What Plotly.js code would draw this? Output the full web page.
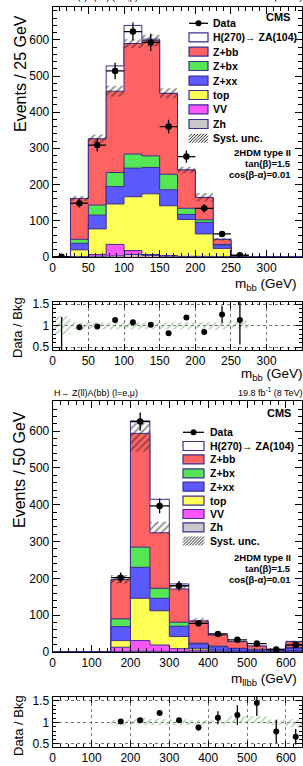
<!DOCTYPE html>
<html><head><meta charset="utf-8">
<script src="https://cdn.plot.ly/plotly-3.0.1.min.js"></script>
<style>html,body{margin:0;padding:0;overflow:hidden;background:#fff}#c{width:303px;height:766px}</style>
</head><body><div id="c"></div>
<script>
// ---------- DATA: upper figure, m_bb (25 GeV bins) ----------
const bbEdges = [0,25,50,75,100,125,150,175,200,225,250,275,300,325,350];
const bbZh  = [0,0,1,2,6,3,1,0,0,0,0,0,0,0];
const bbVV  = [0,0,5,32,11,3,2,1,1,0,0,0,0,0];
const bbTop = [0,19,71,112,149,168,138,102,62,23,1,0,0,0];
const bbZxx = [0,18,38,48,79,73,44,14,32,9,0.5,0,0,0];
const bbZbx = [0,11,28,39,39,32,43,17,7,2,0.3,0,0,0];
const bbZbb = [0,113,183,225,306,319,224,106,62,14,0.2,0,0,0];
const bbSig = [0,0,0,70,50,4,0,0,0,0,0,0,0,0];
const bbSystLo = [0,154,315,443,577,582,439,231,153,44,1.5,0,0,0];
const bbSystHi = [0,168,338,473,602,614,466,249,176,52,2.5,0,0,0];
const bbData    = [0,148,309,514,623,593,360,277,134,63,4,null,null,null];
const bbDataErr = [0,12,18,23,25,24,19,17,12,8,2,null,null,null];
const bbRatio    = [0,0.96,0.98,1.13,1.08,1.02,0.82,1.19,0.85,1.26,1.13,null,null,null];
const bbRatioErr = [1.2,0.06,0.05,0.04,0.04,0.04,0.04,0.05,0.06,0.2,0.57,null,null,null];
const bbBandLo = [0.79,0.91,0.91,0.91,0.91,0.91,0.91,0.91,0.91,0.91,0.93,1,1,1];
const bbBandHi = [1.22,1.08,1.08,1.08,1.08,1.08,1.08,1.08,1.08,1.08,1.12,1,1,1];

// ---------- DATA: lower figure, m_llbb (50 GeV bins) ----------
const llEdges = [0,50,100,150,200,250,300,350,400,450,500,550,600,650];
const llZh  = [0,0,0,1,2,2,1,0,0,0,0,0,0];
const llVV  = [0,0,0,12,29,17,8,5,2,1,1,0,1];
const llTop = [0,0,0,18,115,93,33,5,3,2,1,1,3];
const llZxx = [0,0,0,38,84,34,28,12,9,6,4,3,6];
const llZbx = [0,0,0,21,55,27,11,2,2,1,1,1,2];
const llZbb = [0,0,0,107,309,151,90,60,30,18,9,2,16];
const llSig = [0,0,0,0,34,91,14,0,0,0,0,0,0];
const llSystLo = [0,0,0,186,545,322,171,82,44,27,15,6,26];
const llSystHi = [0,0,0,209,622,354,182,92,49,30,18,8,31];
const llData    = [null,null,null,202,626,397,180,78,49,33,23,7,19];
const llDataErr = [null,null,null,14,25,20,13,9,7,6,5,3,4];
const llRatio    = [null,null,null,1.02,1.05,1.22,1.05,0.88,1.11,1.17,1.45,0.79,0.67];
const llRatioErr = [null,null,null,0.05,0.03,0.05,0.05,0.07,0.15,0.23,0.3,0.27,0.18];
const llBandLo = [1,1,1,0.93,0.94,0.94,0.94,0.94,0.95,0.98,0.98,0.94,0.88];
const llBandHi = [1,1,1,1.06,1.10,1.08,1.07,1.05,1.05,1.15,1.15,1.07,1.08];

const compNames  = ['Zh','VV','top','Z+xx','Z+bx','Z+bb'];
const compColors = ['#c8c8c8','#ff55ff','#ffff55','#5a5aff','#55e655','#ff6262'];
const OUT = '#3d2d8e';
const FONT = 'Liberation Sans, Arial, Helvetica, sans-serif';

// ---------- helpers ----------
const W = 303, H = 766;
const PX = x => x / W, PY = y => 1 - y / H;
function addArr(a, b){ return a.map((v,i)=>v + b[i]); }
function centers(e){ return e.slice(0,-1).map((v,i)=>(v+e[i+1])/2); }
function stepHist(e, v){
  const x=[e[0]], y=[0];
  for(let i=0;i<v.length;i++){ x.push(e[i]); y.push(v[i]); }
  x.push(e[e.length-1]); y.push(v[v.length-1]);
  x.push(e[e.length-1]); y.push(0);
  return {x, y};
}
function stepEdge(e, v){
  const x=[], y=[];
  for(let i=0;i<v.length;i++){ x.push(e[i]); y.push(v[i]); }
  x.push(e[e.length-1]); y.push(v[v.length-1]);
  return {x, y};
}

const traces = [];
function mainPanel(edges, comps, sig, lo, hi, data, dataErr, xa, ya){
  const cum = []; let acc = comps[0].map(()=>0);
  comps.forEach(c => { acc = addArr(acc, c); cum.push(acc); });
  const total = cum[cum.length-1];
  const layers = [{v: addArr(total, sig), col: '#ffffff'}];
  for(let k=comps.length-1;k>=0;k--) layers.push({v: cum[k], col: compColors[k]});
  layers.forEach(L => {
    const s = stepHist(edges, L.v);
    traces.push({type:'scatter', mode:'lines', x:s.x, y:s.y, xaxis:xa, yaxis:ya,
      line:{shape:'hv', color:OUT, width:1}, fill:'tozeroy', fillcolor:L.col,
      hoverinfo:'skip', showlegend:false});
  });
  const sl = stepEdge(edges, lo), sh = stepEdge(edges, hi);
  traces.push({type:'scatter', mode:'lines', x:sl.x, y:sl.y, xaxis:xa, yaxis:ya,
    line:{shape:'hv', width:0, color:'rgba(0,0,0,0)'}, showlegend:false, hoverinfo:'skip'});
  traces.push({type:'scatter', mode:'lines', x:sh.x, y:sh.y, xaxis:xa, yaxis:ya,
    line:{shape:'hv', width:0, color:'rgba(0,0,0,0)'}, fill:'tonexty', fillcolor:'rgba(0,0,0,0)',
    fillpattern:{shape:'/', fgcolor:'#222', bgcolor:'rgba(0,0,0,0)', size:5, solidity:0.35, fillmode:'overlay'},
    showlegend:false, hoverinfo:'skip'});
  const half = (edges[1]-edges[0])/2;
  traces.push({type:'scatter', mode:'markers', x:centers(edges), y:data, xaxis:xa, yaxis:ya,
    marker:{color:'black', size:6.5},
    error_y:{type:'data', array:dataErr, color:'black', thickness:1.3, width:0},
    error_x:{type:'constant', value:half, color:'black', thickness:1.3, width:0},
    showlegend:false, hoverinfo:'skip'});
}
function ratioPanel(edges, lo, hi, r, rErr, xa, ya){
  const sl = stepEdge(edges, lo), sh = stepEdge(edges, hi);
  traces.push({type:'scatter', mode:'lines', x:sl.x, y:sl.y, xaxis:xa, yaxis:ya,
    line:{shape:'hv', width:0, color:'rgba(0,0,0,0)'}, showlegend:false, hoverinfo:'skip'});
  traces.push({type:'scatter', mode:'lines', x:sh.x, y:sh.y, xaxis:xa, yaxis:ya,
    line:{shape:'hv', width:0, color:'rgba(0,0,0,0)'}, fill:'tonexty', fillcolor:'rgba(0,0,0,0)',
    fillpattern:{shape:'/', fgcolor:'#5fa85f', bgcolor:'rgba(0,0,0,0)', size:5, solidity:0.3, fillmode:'overlay'},
    showlegend:false, hoverinfo:'skip'});
  traces.push({type:'scatter', mode:'markers', x:centers(edges), y:r, xaxis:xa, yaxis:ya,
    marker:{color:'black', size:6},
    error_y:{type:'data', array:rErr, color:'black', thickness:1.3, width:0},
    cliponaxis:true, showlegend:false, hoverinfo:'skip'});
}

mainPanel(bbEdges, [bbZh,bbVV,bbTop,bbZxx,bbZbx,bbZbb], bbSig, bbSystLo, bbSystHi, bbData, bbDataErr, 'x', 'y');
ratioPanel(bbEdges, bbBandLo, bbBandHi, bbRatio, bbRatioErr, 'x2', 'y2');
mainPanel(llEdges, [llZh,llVV,llTop,llZxx,llZbx,llZbb], llSig, llSystLo, llSystHi, llData, llDataErr, 'x3', 'y3');
ratioPanel(llEdges, llBandLo, llBandHi, llRatio, llRatioErr, 'x4', 'y4');

// ---------- axes ----------
const xDom = [PX(52.7), PX(302.3)];
function ax(o){
  return Object.assign({showline:true, linecolor:'black', linewidth:1, mirror:'allticks',
    ticks:'inside', ticklen:7, tickwidth:1, tickcolor:'black', zeroline:false, showgrid:false,
    tickfont:{family:FONT, size:12, color:'black'}, fixedrange:true}, o);
}
const grid = {showgrid:true, gridcolor:'#777', griddash:'dot', gridwidth:1};
const layout = {
  width:W, height:H, margin:{l:0,r:0,t:0,b:0}, paper_bgcolor:'white', plot_bgcolor:'white',
  showlegend:false,
  xaxis: ax({domain:xDom, anchor:'y', range:[0,350], tickvals:[0,50,100,150,200,250,300,350], minor:{ticks:'inside', ticklen:4, dtick:10, tickcolor:'black'}}),
  yaxis: ax({domain:[PY(256.7), PY(7)], anchor:'x', range:[0,691], dtick:100, minor:{ticks:'inside', ticklen:4, dtick:20, tickcolor:'black'}}),
  xaxis2: ax(Object.assign({domain:xDom, anchor:'y2', range:[0,350], tickvals:[0,50,100,150,200,250,300,350], ticklen:6, minor:{ticks:'inside', ticklen:3, dtick:10, tickcolor:'black'}}, grid)),
  yaxis2: ax(Object.assign({domain:[PY(350), PY(302)], anchor:'x2', range:[0.43,1.55], tickvals:[0.5,1,1.5], ticktext:['0.5','1','1.5'], ticklen:6, minor:{ticks:'inside', ticklen:3, dtick:0.1, tickcolor:'black'}}, grid)),
  xaxis3: ax({domain:xDom, anchor:'y3', range:[0,642], dtick:100, minor:{ticks:'inside', ticklen:4, dtick:20, tickcolor:'black'}}),
  yaxis3: ax({domain:[PY(652), PY(401)], anchor:'x3', range:[0,682], dtick:100, minor:{ticks:'inside', ticklen:4, dtick:20, tickcolor:'black'}}),
  xaxis4: ax(Object.assign({domain:xDom, anchor:'y4', range:[0,642], dtick:100, ticklen:6, minor:{ticks:'inside', ticklen:3, dtick:20, tickcolor:'black'}}, grid)),
  yaxis4: ax(Object.assign({domain:[PY(747), PY(697)], anchor:'x4', range:[0.43,1.59], tickvals:[0.5,1,1.5], ticktext:['0.5','1','1.5'], ticklen:6, minor:{ticks:'inside', ticklen:3, dtick:0.1, tickcolor:'black'}}, grid)),
  annotations:[], shapes:[]
};

// ---------- text ----------
function txt(t, x, y, o){
  layout.annotations.push(Object.assign({text:t, xref:'paper', yref:'paper', x:PX(x), y:PY(y),
    showarrow:false, xanchor:'left', yanchor:'middle', borderpad:0,
    font:{family:FONT, size:11, color:'black'}}, o||{}));
}
const blackF = s => ({family:FONT, size:s, color:'black'});
txt('H\u2192 Z(ll)A(bb) (l=e,\u03bc)', 53, 3, {yanchor:'bottom', font:blackF(9)});
txt('19.8 fb<sup>-1</sup> (8 TeV)', 304, 3, {xanchor:'right', yanchor:'bottom', font:blackF(9)});
txt('H\u2192 Z(ll)A(bb) (l=e,\u03bc)', 53, 393, {font:blackF(9)});
txt('19.8 fb<sup>-1</sup> (8 TeV)', 304, 392, {xanchor:'right', font:blackF(9)});
txt('Events / 25 GeV', 20, 74, {textangle:-90, xanchor:'center', font:blackF(16)});
txt('Events / 50 GeV', 20, 470, {textangle:-90, xanchor:'center', font:blackF(16)});
txt('Data / Bkg', 18, 328, {textangle:-90, xanchor:'center', font:blackF(13)});
txt('Data / Bkg', 18, 726, {textangle:-90, xanchor:'center', font:blackF(13)});
txt('m<sub>bb</sub> (GeV)', 298, 284, {xanchor:'right', font:blackF(13.5)});
txt('m<sub>bb</sub> (GeV)', 304, 374, {xanchor:'right', font:blackF(13.5)});
txt('m<sub>llbb</sub> (GeV)', 298, 679, {xanchor:'right', font:blackF(13.5)});
txt('m<sub>llbb</sub> (GeV)', 304, 763, {xanchor:'right', yanchor:'top', font:blackF(13.5)});
txt('<b>CMS</b>', 291, 17, {xanchor:'right', font:blackF(11)});
txt('<b>CMS</b>', 292, 413, {xanchor:'right', font:blackF(11)});
[['<b>2HDM type II</b>',153],['<b>tan(\u03b2)=1.5</b>',163.5],['<b>cos(\u03b2-\u03b1)=0.01</b>',174]].forEach(a=>txt(a[0],292,a[1],{xanchor:'right', font:blackF(9.5)}));
[['<b>2HDM type II</b>',557],['<b>tan(\u03b2)=1.5</b>',568],['<b>cos(\u03b2-\u03b1)=0.01</b>',579]].forEach(a=>txt(a[0],292,a[1],{xanchor:'right', font:blackF(9.5)}));

// ---------- legends ----------
const legLabels = ['Data','H(270)\u2192 ZA(104)'].concat(compNames.slice().reverse()).concat(['Syst. unc.']);
const legFills  = [null,'#ffffff'].concat(compColors.slice().reverse()).concat(['hatch']);
function legend(ys, bx0, bx1, tx){
  legLabels.forEach((lab, i) => {
    const y = ys[i];
    txt('<b>'+lab+'</b>', tx, y, {font:blackF(10.5)});
    const f = legFills[i];
    if(f === null){
      layout.shapes.push({type:'line', xref:'paper', yref:'paper', x0:PX(bx0), x1:PX(bx1), y0:PY(y), y1:PY(y), line:{color:'black', width:1.3}});
      const cx=(bx0+bx1)/2;
      layout.shapes.push({type:'circle', xref:'paper', yref:'paper', x0:PX(cx-3), x1:PX(cx+3), y0:PY(y-3), y1:PY(y+3), fillcolor:'black', line:{color:'black', width:0}});
    } else if(f === 'hatch'){
      let p=''; const y0=y-4.5, y1=y+4.5;
      for(let s=bx0-9; s<bx1; s+=3){
        let xa=s, ya=y1, xb=s+9, yb=y0;
        if(xa<bx0){ ya = y1-(bx0-xa); xa=bx0; }
        if(xb>bx1){ yb = y0+(xb-bx1); xb=bx1; }
        if(xb<=xa) continue;
        p += 'M'+PX(xa)+','+PY(ya)+'L'+PX(xb)+','+PY(yb);
      }
      layout.shapes.push({type:'path', xref:'paper', yref:'paper', path:p, line:{color:'#222', width:1}});
    } else {
      layout.shapes.push({type:'rect', xref:'paper', yref:'paper', x0:PX(bx0), x1:PX(bx1), y0:PY(y+4.5), y1:PY(y-4.5), fillcolor:f, line:{color:OUT, width:1.2}});
    }
  });
}
legend([23.3,37.3,51.7,66,80.7,95,109.3,124,138.3], 189, 208, 212);
legend([432.3,446,459.3,473.3,486.7,500.7,514,527.3,541], 183, 204, 209);

Plotly.newPlot('c', traces, layout, {staticPlot:true, displayModeBar:false});
</script></body></html>
